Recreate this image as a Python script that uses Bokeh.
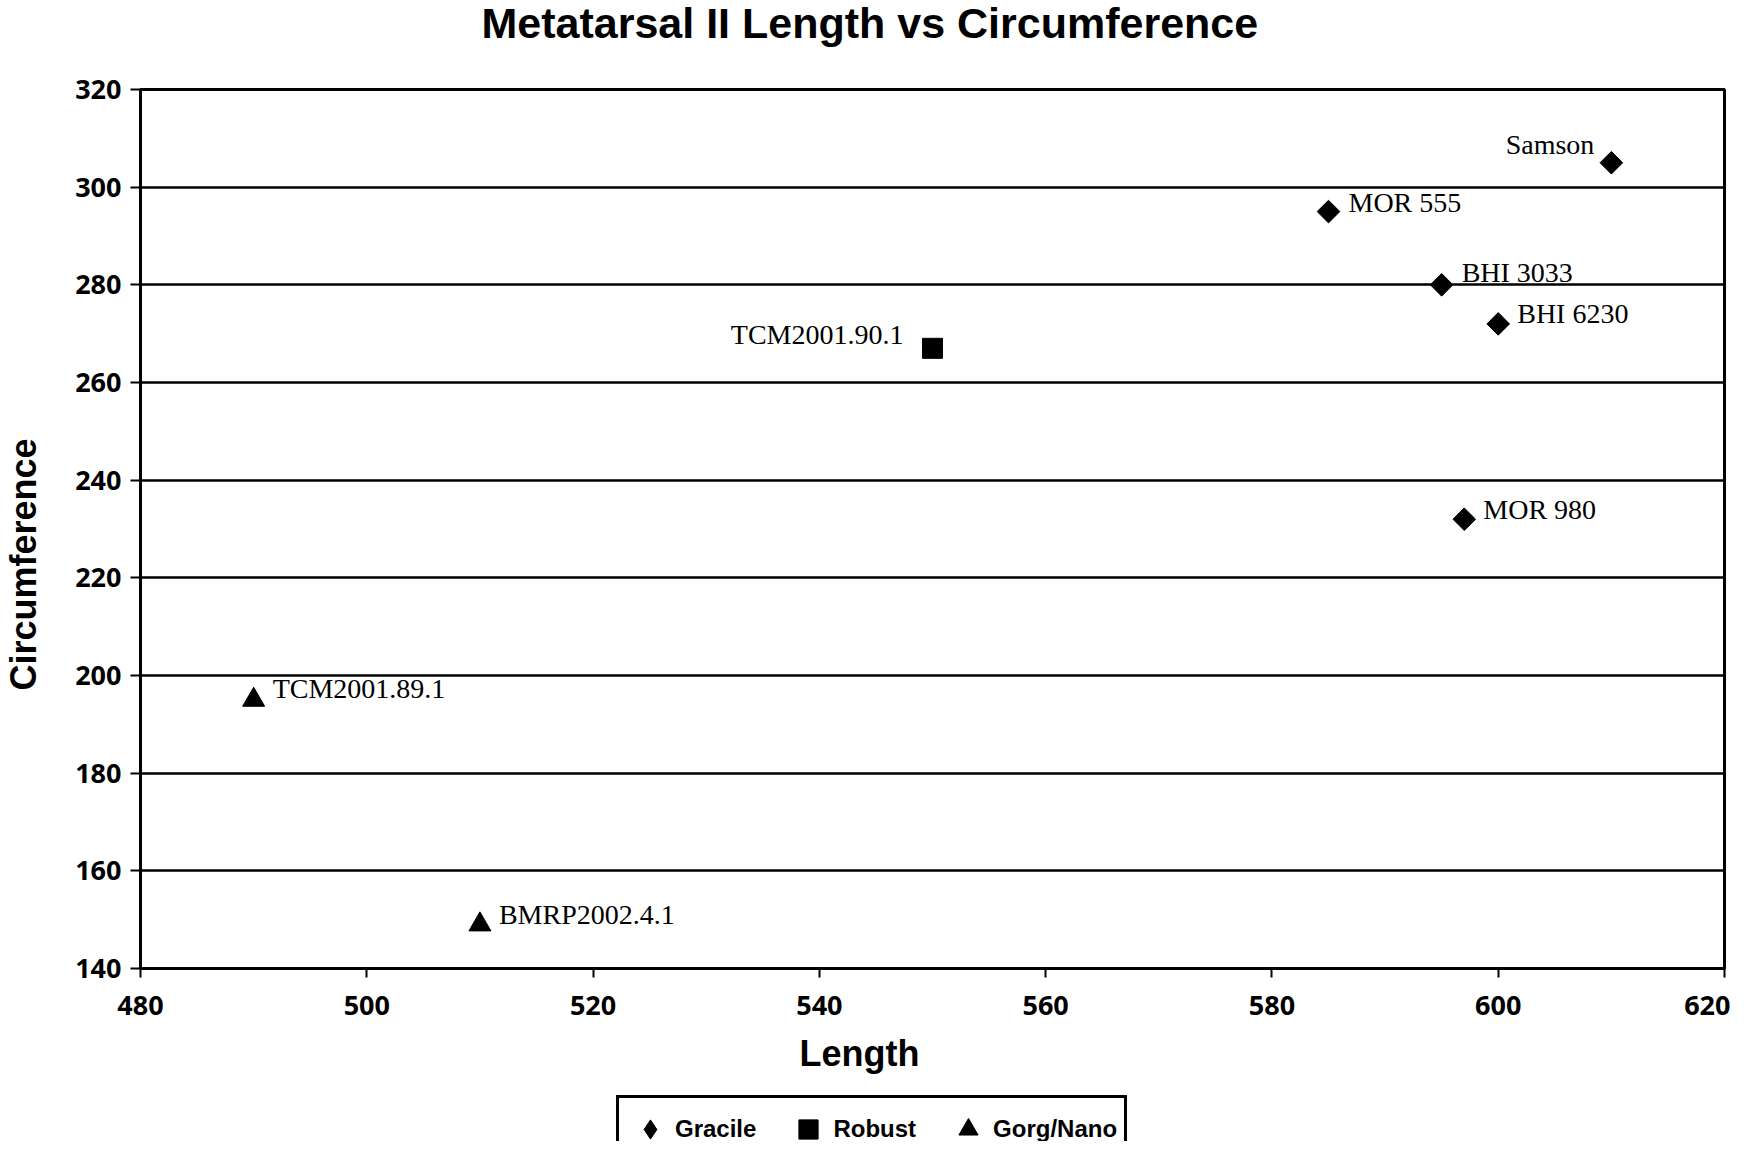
import math
from bokeh.plotting import figure
from bokeh.layouts import column
from bokeh.models import Label, Legend, LegendItem, FixedTicker, Range1d, Title
from bokeh.embed import file_html
from bokeh.resources import INLINE

# ---------------- data ----------------
gracile_names = ["Samson", "MOR 555", "BHI 3033", "BHI 6230", "MOR 980"]
gracile_length = [610, 585, 595, 600, 597]
gracile_circ = [305, 295, 280, 272, 232]

robust_names = ["TCM2001.90.1"]
robust_length = [550]
robust_circ = [267]

gorg_names = ["TCM2001.89.1", "BMRP2002.4.1"]
gorg_length = [490, 510]
gorg_circ = [195, 149]

x_ticks = [480, 500, 520, 540, 560, 580, 600, 620]
y_ticks = [140, 160, 180, 200, 220, 240, 260, 280, 300, 320]

series_labels = ["Gracile", "Robust", "Gorg/Nano"]
title_text = "Metatarsal II Length vs Circumference"
x_label = "Length"
y_label = "Circumference"

# label placement (style): (dx, dy, align)
label_style = {
    "Samson": (-17, 18, "right"),
    "MOR 555": (20, 9, "left"),
    "BHI 3033": (20, 12, "left"),
    "BHI 6230": (19, 10, "left"),
    "MOR 980": (19, 10, "left"),
    "TCM2001.90.1": (-29, 14, "right"),
    "TCM2001.89.1": (19, 11, "left"),
    "BMRP2002.4.1": (19, 10, "left"),
}

MAIN_H = 1094
TOTAL_H = 1141
W = 1730
BL, BR = 136, 6

# ---------------- main figure ----------------
p = figure(width=W, height=MAIN_H,
           x_range=Range1d(x_ticks[0], x_ticks[-1]),
           y_range=Range1d(y_ticks[0], y_ticks[-1]),
           output_backend="svg", toolbar_location=None,
           min_border_left=BL, min_border_right=BR,
           min_border_top=89, min_border_bottom=MAIN_H - 968,
           background_fill_color="white", border_fill_color="white")

p.title.text = title_text
p.title.text_font = "Liberation Sans"
p.title.text_font_size = "43px"
p.title.text_font_style = "bold"
p.title.text_color = "black"
p.title.align = "left"
p.title.offset = 341
spacer_top = 31
try:
    p.title.standoff = -18
    p.title.vertical_align = "top"
    spacer_top = 47
except Exception:
    p.title.standoff = 0

# spacer between frame and title
p.add_layout(Title(text=" ", text_font_size="1px", standoff=spacer_top), "above")

p.outline_line_color = "black"
p.outline_line_width = 3

p.xgrid.visible = False
p.ygrid.ticker = FixedTicker(ticks=y_ticks)
p.ygrid.grid_line_color = "black"
p.ygrid.grid_line_width = 2.5

for ax in (p.xaxis[0], p.yaxis[0]):
    ax.axis_line_color = "black"
    ax.axis_line_width = 3
    ax.major_tick_line_color = "black"
    ax.major_tick_line_width = 2
    ax.major_tick_in = 0
    ax.minor_tick_line_color = None
    ax.major_label_text_font = "Open Sans"
    ax.major_label_text_font_style = "bold"
    ax.major_label_text_font_size = "27px"
    ax.major_label_text_color = "black"

p.xaxis.ticker = FixedTicker(ticks=x_ticks)
p.yaxis.ticker = FixedTicker(ticks=y_ticks)
p.xaxis.major_tick_out = 9
p.yaxis.major_tick_out = 10
p.xaxis.major_label_standoff = 18
p.yaxis.major_label_standoff = 9

# y-axis title (left side, shifted down as in the reference)
p.add_layout(Title(text=" ", text_font_size="1px", standoff=26), "left")
p.add_layout(Title(text=y_label, text_font="Liberation Sans", text_font_style="bold",
                   text_font_size="36px", text_color="black", align="left",
                   offset=278, standoff=0), "left")

# x-axis title
p.add_layout(Title(text=" ", text_font_size="1px", standoff=12), "below")
p.add_layout(Title(text=x_label, text_font="Liberation Sans", text_font_style="bold",
                   text_font_size="36px", text_color="black", align="left",
                   offset=659, standoff=0, vertical_align="top"), "below")

p.scatter(gracile_length, gracile_circ, marker="square", angle=math.pi / 4,
          size=16, color="black")
p.scatter(robust_length, robust_circ, marker="square", size=20, color="black")
p.scatter(gorg_length, gorg_circ, marker="triangle", size=22, color="black")

for names, xs, ys in ((gracile_names, gracile_length, gracile_circ),
                      (robust_names, robust_length, robust_circ),
                      (gorg_names, gorg_length, gorg_circ)):
    for n, xv, yv in zip(names, xs, ys):
        dx, dy, al = label_style[n]
        p.add_layout(Label(x=xv, y=yv, text=n, x_offset=dx, y_offset=dy,
                           text_align=al, text_baseline="middle",
                           text_font="Liberation Serif", text_font_size="28px",
                           text_color="black"))

# ---------------- legend strip (separate figure below) ----------------
LEG_H = TOTAL_H - MAIN_H
q = figure(width=W, height=LEG_H,
           x_range=Range1d(0, 1), y_range=Range1d(0, 1),
           output_backend="svg", toolbar_location=None,
           x_axis_location=None, y_axis_location=None,
           min_border_left=BL, min_border_right=BR,
           min_border_top=0, min_border_bottom=0,
           background_fill_color="white", border_fill_color="white")
q.outline_line_color = None
q.grid.visible = False
# off-range copies of the series, used only as legend glyphs
l_g = q.scatter(gracile_length, gracile_circ, marker="diamond", size=14, color="black")
l_r = q.scatter(robust_length, robust_circ, marker="square", size=14, color="black")
l_t = q.scatter(gorg_length, gorg_circ, marker="triangle", size=14, color="black")

legend_h = 67
legend = Legend(items=[LegendItem(label=series_labels[0], renderers=[l_g]),
                       LegendItem(label=series_labels[1], renderers=[l_r]),
                       LegendItem(label=series_labels[2], renderers=[l_t])],
                orientation="horizontal", location=(612 - BL, LEG_H - 2 - legend_h),
                margin=0,
                border_line_color="black", border_line_width=3, border_line_alpha=1,
                label_text_font="Liberation Sans", label_text_font_style="bold",
                label_text_font_size="24px", label_text_color="black",
                padding=7, spacing=28,
                label_standoff=1, glyph_width=48, glyph_height=48,
                background_fill_color="white", background_fill_alpha=1)
q.add_layout(legend, "center")

layout = column(p, q, spacing=0)
open("out.html", "w").write(file_html(layout, INLINE))
